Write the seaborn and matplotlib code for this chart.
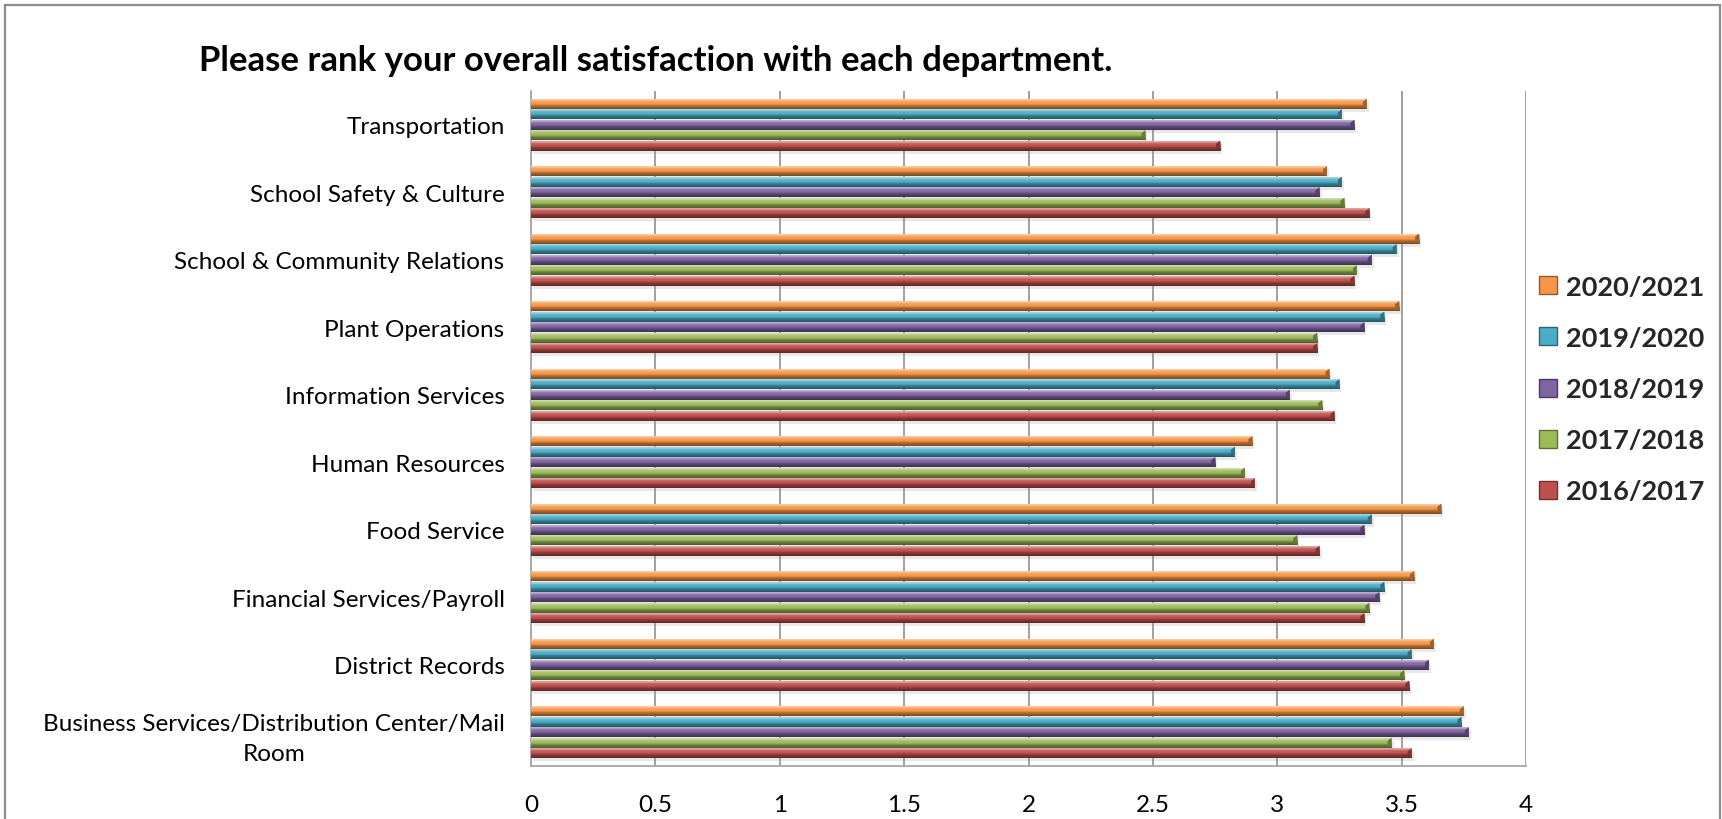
import numpy as np
import pandas as pd
import matplotlib
matplotlib.use("Agg")
import matplotlib.pyplot as plt
import matplotlib.colors as mcolors
import matplotlib.transforms as mtransforms
from matplotlib.patches import Polygon, Rectangle
from matplotlib.lines import Line2D
import seaborn as sns

# ---- data -------------------------------------------------------------
departments = [
    "Transportation",
    "School Safety & Culture",
    "School & Community Relations",
    "Plant Operations",
    "Information Services",
    "Human Resources",
    "Food Service",
    "Financial Services/Payroll",
    "District Records",
    "Business Services/Distribution Center/Mail\nRoom",
]
years = ["2020/2021", "2019/2020", "2018/2019", "2017/2018", "2016/2017"]

score_2020_2021 = [3.36, 3.20, 3.57, 3.49, 3.21, 2.90, 3.66, 3.55, 3.63, 3.75]
score_2019_2020 = [3.26, 3.26, 3.48, 3.43, 3.25, 2.83, 3.38, 3.43, 3.54, 3.74]
score_2018_2019 = [3.31, 3.17, 3.38, 3.35, 3.05, 2.75, 3.35, 3.41, 3.61, 3.77]
score_2017_2018 = [2.47, 3.27, 3.32, 3.16, 3.18, 2.87, 3.08, 3.37, 3.51, 3.46]
score_2016_2017 = [2.77, 3.37, 3.31, 3.16, 3.23, 2.91, 3.17, 3.35, 3.53, 3.54]

x_ticks = [0, 0.5, 1, 1.5, 2, 2.5, 3, 3.5, 4]
x_tick_labels = ["0", "0.5", "1", "1.5", "2", "2.5", "3", "3.5", "4"]

year_colors = {
    "2020/2021": "#F79646",
    "2019/2020": "#4BACC6",
    "2018/2019": "#8064A2",
    "2017/2018": "#9BBB59",
    "2016/2017": "#C0504D",
}

series = [score_2020_2021, score_2019_2020, score_2018_2019,
          score_2017_2018, score_2016_2017]
df = pd.DataFrame(
    [(d, y, v) for y, vals in zip(years, series) for d, v in zip(departments, vals)],
    columns=["Department", "Year", "Score"],
)

# ---- style ------------------------------------------------------------
sns.set_theme(style="white")
plt.rcParams["font.family"] = ["Lato", "DejaVu Sans"]

W, H = 1722, 820
fig = plt.figure(figsize=(W / 100, H / 100), dpi=100)
fig.patch.set_facecolor("white")
ax = fig.add_axes([531 / W, 1 - 767 / H, (1526 - 531) / W, (767 - 92) / H])

sns.barplot(
    data=df, y="Department", x="Score", hue="Year",
    order=departments, hue_order=years, palette=year_colors,
    width=0.78, gap=0.03, orient="h", legend=False, ax=ax,
    saturation=1, linewidth=0, zorder=3,
)

ax.set_xlim(0, 4)
ylim = ax.get_ylim()


def mix(c, other, t):
    c = np.array(mcolors.to_rgb(c))
    o = np.array(mcolors.to_rgb(other))
    return tuple(c * (1 - t) + o * t)


# bevelled look: vertical shading, end facet and soft drop shadow
shadow_tf = mtransforms.offset_copy(ax.transData, fig=fig, x=2, y=-3, units="dots")
for p in list(ax.patches):
    x0, y0 = p.get_x(), p.get_y()
    w, h = p.get_width(), p.get_height()
    base = p.get_facecolor()[:3]
    stops = [(0.0, mix(base, "white", 0.30)), (0.14, mix(base, "white", 0.55)),
             (0.32, mix(base, "white", 0.10)), (0.55, base),
             (0.72, mix(base, "black", 0.30)), (1.0, mix(base, "black", 0.50))]
    n = 40
    rows = []
    for i in range(n):
        t = i / (n - 1)
        for (a, ca), (b, cb) in zip(stops[:-1], stops[1:]):
            if a <= t <= b:
                f = (t - a) / (b - a) if b > a else 0
                rows.append(mix(ca, cb, f))
                break
    grad = np.array(rows)[:, None, :]
    im = ax.imshow(grad, extent=(x0, x0 + w, y0 + h, y0), origin="upper",
                   aspect="auto", interpolation="bilinear", zorder=3.1)
    im.set_clip_path(p)

    ax.add_patch(Rectangle((x0, y0), w, h, transform=shadow_tf,
                           facecolor="#9a9a9a", alpha=0.22, lw=0, zorder=2.5))

    d = 0.016
    ax.add_patch(Polygon([(x0 + w - d, y0 + 0.3 * h), (x0 + w, y0),
                          (x0 + w, y0 + h), (x0 + w - d, y0 + 0.7 * h)],
                         closed=True, facecolor=mix(base, "black", 0.35),
                         lw=0, zorder=3.2))

ax.set_ylim(ylim)

# axes, grid, ticks
ax.set_axisbelow(True)
ax.xaxis.grid(True, color="#868686", linewidth=1.1)
ax.yaxis.grid(False)
ax.set_xticks(x_ticks)
ax.set_xticklabels(x_tick_labels, fontsize=17.5, color="black")
ax.tick_params(axis="x", length=0, pad=20)
ax.tick_params(axis="y", length=0, pad=19, labelsize=17.5, labelcolor="black")
for lbl in ax.get_yticklabels():
    lbl.set_horizontalalignment("right")
    lbl.set_multialignment("center")
    lbl.set_linespacing(1.5)
ax.set_xlabel("")
ax.set_ylabel("")
for side in ["top", "right"]:
    ax.spines[side].set_visible(False)
for side in ["left", "bottom"]:
    ax.spines[side].set_color("#A6A6A6")
    ax.spines[side].set_linewidth(1.3)

# title
fig.text(656 / W, 1 - 61 / H,
         "Please rank your overall satisfaction with each department.",
         ha="center", va="center", fontsize=25, fontweight="bold", color="black")

# legend
handles = [Line2D([0], [0], marker="s", linestyle="none", markersize=13.5,
                  markerfacecolor=year_colors[y],
                  markeredgecolor=mix(year_colors[y], "black", 0.4),
                  markeredgewidth=1.0) for y in years]
fig.legend(handles, years, loc="center left",
           bbox_to_anchor=(1538 / W, 1 - 390 / H), frameon=False,
           prop={"size": 19.5, "weight": "bold"}, handlelength=0.75,
           handletextpad=0.3, labelspacing=1.0, borderpad=0,
           borderaxespad=0)

# chart border
fig.add_artist(Rectangle((5 / W, -0.05), (1720 - 5) / W, 1.05 - 6 / H,
                         transform=fig.transFigure, fill=False,
                         edgecolor="#8C8C8C", linewidth=1.6))

fig.savefig("out.png", dpi=100)
